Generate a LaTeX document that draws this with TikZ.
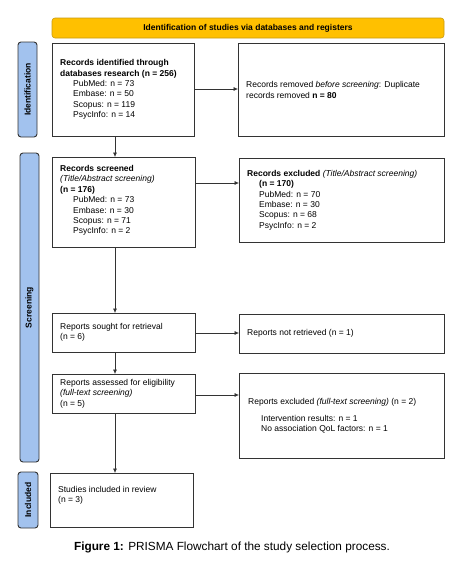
\documentclass[tikz,border=0pt]{standalone}
\usepackage{fontspec}
\setmainfont{Liberation Sans}
\usetikzlibrary{arrows.meta}
\definecolor{banner}{HTML}{FFC000}
\definecolor{bannerline}{HTML}{C89A10}
\definecolor{sidebar}{HTML}{A2C2EE}
\definecolor{boxline}{HTML}{333333}
\begin{document}
\begin{tikzpicture}[x=1pt,y=-1pt,
  flowbox/.style={draw=boxline,line width=0.8pt,fill=white},
  sidebox/.style={draw=boxline,line width=0.9pt,fill=sidebar,rounded corners=3pt},
  boxtext/.style={anchor=west,align=left,inner sep=0pt,font=\fontsize{8.5}{10.4}\selectfont},
  sidelabel/.style={rotate=90,font=\fontsize{8.5}{9}\selectfont\bfseries,inner sep=0pt},
  conn/.style={draw=black!80,line width=0.6pt,-{Latex[length=4.5pt,width=4pt]}}]
\useasboundingbox (0,0) rectangle (464,568);
\fill[white] (0,0) rectangle (464,568);
% banner
\draw[draw=bannerline,fill=banner,line width=0.6pt,rounded corners=3pt] (52,18) rectangle (444,38);
\node[font=\fontsize{8.5}{9}\selectfont\bfseries] (ban) at (248,28) {Identification of studies via databases and registers};
% side bars
\draw[sidebox] (18,42) rectangle (37,137);
\node[sidelabel] (lid) at (27.5,89.5) {Identification};
\draw[sidebox] (20,153) rectangle (39,462);
\node[sidelabel] (lsc) at (29.5,307.5) {Screening};
\draw[sidebox] (18,472) rectangle (38,528);
\node[sidelabel] (lin) at (28,500) {Included};
% boxes
\node[flowbox,minimum width=142pt,minimum height=93pt,anchor=north west] (b1) at (52,43) {};
\node[flowbox,minimum width=206pt,minimum height=93pt,anchor=north west] (b2) at (238,43) {};
\node[flowbox,minimum width=143pt,minimum height=90pt,anchor=north west] (b3) at (52,157) {};
\node[flowbox,minimum width=205pt,minimum height=84pt,anchor=north west] (b4) at (239,158) {};
\node[flowbox,minimum width=143pt,minimum height=39pt,anchor=north west] (b5) at (52,313) {};
\node[flowbox,minimum width=205pt,minimum height=39pt,anchor=north west] (b6) at (239,314) {};
\node[flowbox,minimum width=143pt,minimum height=39pt,anchor=north west] (b7) at (52,374) {};
\node[flowbox,minimum width=205pt,minimum height=85pt,anchor=north west] (b8) at (239,373) {};
\node[flowbox,minimum width=143pt,minimum height=54pt,anchor=north west] (b9) at (50,473) {};
% texts
\node[boxtext] (t1) at (60,89.5) {\textbf{Records identified through}\\\textbf{databases research (n = 256)}\\
\hspace*{13pt}PubMed: n = 73\\\hspace*{13pt}Embase: n = 50\\\hspace*{13pt}Scopus: n = 119\\\hspace*{13pt}PsycInfo: n = 14};
\node[boxtext] (t2) at (246,90) {Records removed \textit{before screening}: Duplicate\\records removed \textbf{n = 80}};
\node[boxtext] (t3) at (60,200.5) {\textbf{Records screened}\\\textit{(Title/Abstract screening)}\\\textbf{(n = 176)}\\
\hspace*{13pt}PubMed: n = 73\\\hspace*{13pt}Embase: n = 30\\\hspace*{13pt}Scopus: n = 71\\\hspace*{13pt}PsycInfo: n = 2};
\node[boxtext] (t4) at (247,200) {\textbf{Records excluded} \textit{(Title/Abstract screening)}\\
\hspace*{12pt}\textbf{(n = 170)}\\\hspace*{12pt}PubMed: n = 70\\\hspace*{12pt}Embase: n = 30\\\hspace*{12pt}Scopus: n = 68\\\hspace*{12pt}PsycInfo: n = 2};
\node[boxtext] (t5) at (60,332) {Reports sought for retrieval\\(n = 6)};
\node[boxtext] (t6) at (247,333) {Reports not retrieved (n = 1)};
\node[boxtext] (t7) at (60,393.5) {Reports assessed for eligibility\\\textit{(full-text screening)}\\(n = 5)};
\node[boxtext] (t8) at (248,416) {Reports excluded \textit{(full-text screening)} (n = 2)\\[6pt]
\hspace*{13pt}Intervention results: n = 1\\\hspace*{13pt}No association QoL factors: n = 1};
\node[boxtext] (t9) at (58,495) {Studies included in review\\(n = 3)};
% connectors
\draw[conn] (b1.south -| 115,0) -- (b3.north -| 115,0);
\draw[conn] (b3.south -| 115,0) -- (b5.north -| 115,0);
\draw[conn] (b5.south -| 115,0) -- (b7.north -| 115,0);
\draw[conn] (b7.south -| 115,0) -- (b9.north -| 115,0);
\draw[conn] (b1.east |- 0,89) -- (b2.west |- 0,89);
\draw[conn] (b3.east |- 0,183) -- (b4.west |- 0,183);
\draw[conn] (b5.east |- 0,333) -- (b6.west |- 0,333);
\draw[conn] (b7.east |- 0,395) -- (b8.west |- 0,395);
% caption
\node[font=\fontsize{11.8}{14}\selectfont] (cap) at (232,547) {\textbf{Figure 1:} PRISMA Flowchart of the study selection process.};
\end{tikzpicture}
\end{document}
